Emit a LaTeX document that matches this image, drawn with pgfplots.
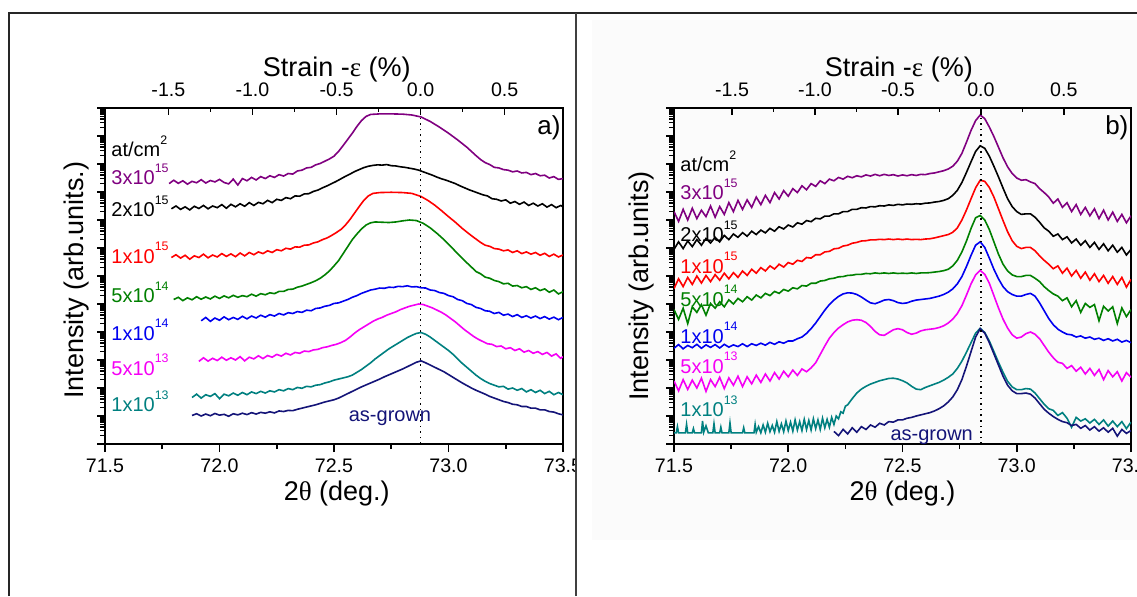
\documentclass[border=0pt]{standalone}
\usepackage{fontspec}
\setmainfont{Liberation Sans}
\newfontfamily\grk{Liberation Serif}
\usepackage{pgfplots}
\pgfplotsset{compat=1.18}

\definecolor{cpur}{RGB}{128,0,128}
\definecolor{cred}{RGB}{255,0,0}
\definecolor{cgrn}{RGB}{0,128,0}
\definecolor{cblu}{RGB}{0,0,240}
\definecolor{cmag}{RGB}{245,0,245}
\definecolor{cteal}{RGB}{0,128,128}
\definecolor{cnavy}{RGB}{20,20,120}

\newcommand\sups[1]{\raisebox{0.62em}{\fontsize{6.2}{7}\selectfont #1}}

% minor ticks of the log-like intensity axis (decades 0..12)
\def\logminors{}
\foreach \k in {0,...,11}{\foreach \m in {0.30103,0.47712,0.60206,0.69897,0.77815,0.84510,0.90309,0.95424}{%
  \pgfmathsetmacro\tmpv{\k+\m}\xdef\logminors{\logminors\tmpv,}}}
\xdef\logminors{\logminors 12}

\pgfplotsset{
  panel/.style={scale only axis, height=168pt, xmin=71.5, xmax=73.5, ymin=0, ymax=12,
    axis line style={line width=1pt}, tick style={line width=0.8pt, black},
    xtick={71.5,72,72.5,73,73.5}, xticklabels={71.5,72.0,72.5,73.0,73.5},
    minor x tick num=1, xtick pos=lower, ytick pos=lower, tick align=outside,
    ytick={0,...,12}, yticklabels={}, minor ytick/.expanded={\logminors},
    major tick length=4pt, minor tick length=2.5pt,
    tick label style={font=\fontsize{9.8}{11}\selectfont},
    label style={font=\fontsize{13.5}{15}\selectfont},
    every axis plot/.append style={no markers, line width=0.8pt}},
  strain/.style={scale only axis, height=168pt, ymin=0, ymax=1,
    axis x line*=top, axis y line=none, axis line style={line width=1pt},
    tick style={line width=0.8pt, black},
    xtick={-1.5,-1,-0.5,0,0.5}, xticklabels={-1.5,-1.0,-0.5,0.0,0.5},
    minor x tick num=1, tick align=inside, major tick length=3.5pt, minor tick length=2pt,
    xticklabel style={font=\fontsize{9.8}{11}\selectfont, yshift=2pt},
    xlabel={Strain -{\grk ε} (\%)},
    xlabel style={font=\fontsize{13.5}{15}\selectfont, anchor=center}}
}
\tikzset{lab/.style={font=\fontsize{10}{12}\selectfont, anchor=base west, inner sep=0pt}}

\begin{document}
\begin{tikzpicture}
\useasboundingbox (0,0) rectangle (568.5pt,298pt);
\clip (0,0) rectangle (568.5pt,298pt);
\fill[white] (0,0) rectangle (568.5pt,298pt);

%% ---------------- panel a) ----------------
\begin{axis}[panel, width=229pt, at={(52.5pt,76pt)}, anchor=south west,
  xlabel={2{\grk θ} (deg.)}, ylabel={Intensity (arb.units.)},
  xlabel style={at={(axis description cs:0.506,-0.146)}, anchor=center},
  ylabel style={at={(axis description cs:-0.063,0.488)}, anchor=center}]
\addplot[cpur] coordinates {(71.78,9.30)(71.80,9.42)(71.82,9.31)(71.84,9.40)(71.86,9.28)(71.88,9.38)(71.90,9.33)(71.92,9.44)(71.94,9.32)(71.96,9.41)(71.98,9.36)(72.00,9.45)(72.02,9.34)(72.04,9.29)(72.06,9.46)(72.08,9.25)(72.10,9.48)(72.12,9.40)(72.14,9.52)(72.16,9.43)(72.18,9.55)(72.20,9.48)(72.22,9.58)(72.24,9.52)(72.26,9.62)(72.28,9.57)(72.30,9.66)(72.32,9.64)(72.34,9.75)(72.36,9.78)(72.38,9.86)(72.40,9.88)(72.42,9.97)(72.44,10.02)(72.46,10.10)(72.48,10.18)(72.50,10.28)(72.52,10.45)(72.54,10.66)(72.56,10.88)(72.58,11.10)(72.60,11.34)(72.62,11.55)(72.64,11.70)(72.66,11.77)(72.70,11.79)(72.75,11.79)(72.80,11.78)(72.84,11.75)(72.88,11.68)(72.92,11.52)(72.96,11.32)(73.00,11.10)(73.04,10.86)(73.08,10.60)(73.10,10.45)(73.12,10.30)(73.14,10.16)(73.16,10.05)(73.18,9.98)(73.20,9.88)(73.22,9.86)(73.24,9.80)(73.26,9.78)(73.28,9.72)(73.30,9.75)(73.32,9.68)(73.34,9.70)(73.36,9.62)(73.38,9.66)(73.40,9.58)(73.42,9.60)(73.44,9.50)(73.46,9.55)(73.48,9.45)(73.50,9.48)};
\addplot[black] coordinates {(71.79,8.40)(71.81,8.50)(71.83,8.38)(71.85,8.47)(71.87,8.36)(71.89,8.49)(71.91,8.41)(71.93,8.52)(71.95,8.40)(71.97,8.50)(71.99,8.44)(72.01,8.55)(72.03,8.42)(72.05,8.56)(72.07,8.47)(72.09,8.58)(72.11,8.49)(72.13,8.62)(72.15,8.52)(72.17,8.63)(72.19,8.58)(72.21,8.70)(72.23,8.62)(72.25,8.74)(72.27,8.70)(72.29,8.80)(72.31,8.76)(72.33,8.86)(72.35,8.85)(72.37,8.93)(72.39,8.94)(72.41,9.02)(72.43,9.07)(72.45,9.15)(72.47,9.22)(72.49,9.30)(72.51,9.38)(72.53,9.47)(72.55,9.56)(72.57,9.64)(72.59,9.73)(72.61,9.80)(72.63,9.87)(72.65,9.92)(72.67,9.95)(72.69,9.97)(72.71,9.96)(72.73,9.98)(72.75,9.94)(72.77,9.93)(72.79,9.90)(72.81,9.88)(72.83,9.85)(72.85,9.82)(72.87,9.78)(72.89,9.72)(72.91,9.66)(72.93,9.60)(72.95,9.53)(72.97,9.47)(72.99,9.42)(73.01,9.36)(73.03,9.30)(73.05,9.22)(73.07,9.15)(73.09,9.08)(73.11,9.02)(73.13,8.96)(73.15,8.90)(73.17,8.86)(73.19,8.76)(73.21,8.74)(73.23,8.68)(73.25,8.72)(73.27,8.60)(73.29,8.66)(73.31,8.56)(73.33,8.64)(73.35,8.52)(73.37,8.60)(73.39,8.50)(73.41,8.58)(73.43,8.46)(73.45,8.55)(73.47,8.44)(73.49,8.52)(73.50,8.47)};
\addplot[cred] coordinates {(71.79,6.66)(71.81,6.76)(71.83,6.64)(71.85,6.74)(71.87,6.60)(71.89,6.72)(71.91,6.66)(71.93,6.78)(71.95,6.65)(71.97,6.75)(71.99,6.68)(72.01,6.80)(72.03,6.70)(72.05,6.79)(72.07,6.69)(72.09,6.82)(72.11,6.72)(72.13,6.84)(72.15,6.76)(72.17,6.86)(72.19,6.80)(72.21,6.90)(72.23,6.84)(72.25,6.94)(72.27,6.90)(72.29,6.99)(72.31,6.96)(72.33,7.04)(72.35,7.03)(72.37,7.10)(72.39,7.11)(72.41,7.18)(72.43,7.22)(72.45,7.30)(72.47,7.36)(72.49,7.45)(72.51,7.55)(72.53,7.66)(72.55,7.82)(72.57,8.02)(72.59,8.25)(72.61,8.48)(72.63,8.70)(72.65,8.86)(72.67,8.95)(72.70,8.98)(72.75,8.99)(72.80,8.98)(72.84,8.95)(72.88,8.84)(72.91,8.70)(72.94,8.53)(72.97,8.33)(73.00,8.12)(73.03,7.92)(73.06,7.70)(73.08,7.57)(73.10,7.44)(73.12,7.32)(73.14,7.20)(73.16,7.10)(73.18,7.06)(73.20,6.98)(73.22,6.96)(73.24,6.90)(73.26,6.93)(73.28,6.84)(73.30,6.90)(73.32,6.80)(73.34,6.86)(73.36,6.78)(73.38,6.84)(73.40,6.74)(73.42,6.81)(73.44,6.70)(73.46,6.78)(73.48,6.68)(73.50,6.75)};
\addplot[cgrn] coordinates {(71.80,5.16)(71.82,5.24)(71.84,5.12)(71.86,5.22)(71.88,5.15)(71.90,5.26)(71.92,5.17)(71.94,5.25)(71.96,5.18)(71.98,5.28)(72.00,5.20)(72.02,5.29)(72.04,5.22)(72.06,5.31)(72.08,5.24)(72.10,5.30)(72.12,5.26)(72.14,5.35)(72.16,5.28)(72.18,5.37)(72.20,5.33)(72.22,5.40)(72.24,5.37)(72.26,5.45)(72.28,5.45)(72.30,5.52)(72.32,5.53)(72.34,5.60)(72.36,5.64)(72.38,5.70)(72.40,5.76)(72.42,5.83)(72.44,5.92)(72.46,6.04)(72.48,6.18)(72.50,6.36)(72.52,6.55)(72.54,6.80)(72.56,7.05)(72.58,7.30)(72.60,7.50)(72.62,7.68)(72.64,7.82)(72.66,7.90)(72.68,7.93)(72.71,7.92)(72.74,7.91)(72.77,7.93)(72.80,7.97)(72.83,8.00)(72.86,7.98)(72.89,7.88)(72.92,7.72)(72.95,7.52)(72.98,7.30)(73.01,7.05)(73.04,6.80)(73.07,6.55)(73.10,6.32)(73.12,6.16)(73.14,6.08)(73.16,5.96)(73.18,5.92)(73.20,5.84)(73.22,5.80)(73.24,5.72)(73.26,5.74)(73.28,5.64)(73.30,5.66)(73.32,5.58)(73.34,5.62)(73.36,5.52)(73.38,5.58)(73.40,5.48)(73.42,5.54)(73.44,5.42)(73.46,5.50)(73.48,5.36)(73.50,5.44)};
\addplot[cblu] coordinates {(71.92,4.40)(71.94,4.52)(71.96,4.38)(71.98,4.50)(72.00,4.42)(72.02,4.54)(72.04,4.44)(72.06,4.52)(72.08,4.45)(72.10,4.56)(72.12,4.47)(72.14,4.57)(72.16,4.50)(72.18,4.60)(72.20,4.53)(72.22,4.62)(72.24,4.57)(72.26,4.66)(72.28,4.61)(72.30,4.69)(72.32,4.66)(72.34,4.73)(72.36,4.70)(72.38,4.78)(72.40,4.76)(72.42,4.84)(72.44,4.86)(72.46,4.92)(72.48,4.95)(72.50,5.02)(72.52,5.04)(72.54,5.10)(72.56,5.16)(72.58,5.24)(72.60,5.30)(72.62,5.38)(72.64,5.44)(72.66,5.50)(72.68,5.53)(72.70,5.57)(72.72,5.56)(72.74,5.60)(72.76,5.59)(72.78,5.63)(72.80,5.62)(72.82,5.65)(72.84,5.61)(72.86,5.62)(72.88,5.58)(72.90,5.57)(72.92,5.50)(72.94,5.48)(72.96,5.41)(72.98,5.38)(73.00,5.30)(73.02,5.26)(73.04,5.16)(73.06,5.12)(73.08,5.02)(73.10,4.98)(73.12,4.88)(73.14,4.84)(73.16,4.76)(73.18,4.74)(73.20,4.66)(73.22,4.70)(73.24,4.60)(73.26,4.64)(73.28,4.55)(73.30,4.62)(73.32,4.52)(73.34,4.58)(73.36,4.50)(73.38,4.57)(73.40,4.48)(73.42,4.55)(73.44,4.46)(73.46,4.53)(73.48,4.44)(73.50,4.52)};
\addplot[cmag] coordinates {(71.91,2.95)(71.93,3.08)(71.95,2.96)(71.97,3.06)(71.99,2.98)(72.01,3.10)(72.03,2.99)(72.05,3.08)(72.07,3.00)(72.09,3.12)(72.11,2.97)(72.13,3.10)(72.15,3.04)(72.17,3.15)(72.19,3.05)(72.21,3.16)(72.23,3.10)(72.25,3.20)(72.27,3.14)(72.29,3.24)(72.31,3.18)(72.33,3.27)(72.35,3.24)(72.37,3.32)(72.39,3.30)(72.41,3.36)(72.43,3.38)(72.45,3.44)(72.47,3.47)(72.49,3.52)(72.51,3.56)(72.53,3.62)(72.55,3.70)(72.57,3.82)(72.59,3.96)(72.61,4.08)(72.63,4.18)(72.65,4.28)(72.67,4.38)(72.69,4.46)(72.71,4.52)(72.73,4.60)(72.75,4.66)(72.77,4.72)(72.79,4.80)(72.81,4.86)(72.83,4.92)(72.85,4.96)(72.87,5.00)(72.89,4.98)(72.91,4.92)(72.93,4.86)(72.95,4.78)(72.97,4.70)(72.99,4.60)(73.01,4.48)(73.03,4.36)(73.05,4.22)(73.07,4.08)(73.09,3.96)(73.11,3.84)(73.13,3.74)(73.15,3.66)(73.17,3.58)(73.19,3.56)(73.21,3.48)(73.23,3.50)(73.25,3.40)(73.27,3.44)(73.29,3.34)(73.31,3.40)(73.33,3.28)(73.35,3.34)(73.37,3.24)(73.39,3.30)(73.41,3.20)(73.43,3.27)(73.45,3.14)(73.47,3.22)(73.49,3.06)(73.50,3.12)};
\addplot[cteal] coordinates {(71.88,1.66)(71.90,1.78)(71.92,1.64)(71.94,1.76)(71.96,1.70)(71.98,1.80)(72.00,1.62)(72.02,1.78)(72.04,1.72)(72.06,1.82)(72.08,1.74)(72.10,1.84)(72.12,1.76)(72.14,1.86)(72.16,1.80)(72.18,1.88)(72.20,1.82)(72.22,1.90)(72.24,1.86)(72.26,1.94)(72.28,1.90)(72.30,1.98)(72.32,1.94)(72.34,2.02)(72.36,1.99)(72.38,2.06)(72.40,2.04)(72.42,2.10)(72.44,2.12)(72.46,2.18)(72.48,2.22)(72.50,2.28)(72.52,2.32)(72.54,2.36)(72.56,2.40)(72.58,2.46)(72.60,2.56)(72.62,2.66)(72.64,2.78)(72.66,2.90)(72.68,3.04)(72.70,3.16)(72.72,3.28)(72.74,3.40)(72.76,3.50)(72.78,3.60)(72.80,3.70)(72.82,3.80)(72.84,3.88)(72.86,3.95)(72.88,3.98)(72.90,3.92)(72.92,3.82)(72.94,3.70)(72.96,3.58)(72.98,3.46)(73.00,3.34)(73.02,3.20)(73.04,3.04)(73.06,2.88)(73.08,2.74)(73.10,2.60)(73.12,2.46)(73.14,2.34)(73.16,2.24)(73.18,2.16)(73.20,2.10)(73.22,2.04)(73.24,2.06)(73.26,1.96)(73.28,2.00)(73.30,1.92)(73.32,1.98)(73.34,1.86)(73.36,1.94)(73.38,1.84)(73.40,1.92)(73.42,1.80)(73.44,1.88)(73.46,1.76)(73.48,1.84)(73.50,1.76)};
\addplot[cnavy] coordinates {(71.88,1.02)(71.90,1.08)(71.92,1.00)(71.94,1.07)(71.96,1.01)(71.98,1.09)(72.00,1.03)(72.02,1.06)(72.04,0.99)(72.06,1.08)(72.08,1.04)(72.10,1.10)(72.12,1.05)(72.14,1.12)(72.16,1.07)(72.18,1.13)(72.20,1.10)(72.22,1.15)(72.24,1.11)(72.26,1.18)(72.28,1.16)(72.30,1.20)(72.32,1.19)(72.34,1.24)(72.36,1.28)(72.38,1.32)(72.40,1.36)(72.42,1.40)(72.44,1.45)(72.46,1.50)(72.48,1.54)(72.50,1.58)(72.52,1.64)(72.54,1.72)(72.56,1.80)(72.58,1.88)(72.60,1.96)(72.62,2.04)(72.64,2.11)(72.66,2.18)(72.68,2.25)(72.70,2.32)(72.72,2.40)(72.74,2.47)(72.76,2.54)(72.78,2.61)(72.80,2.68)(72.82,2.76)(72.84,2.84)(72.86,2.92)(72.88,2.97)(72.90,2.90)(72.92,2.82)(72.94,2.74)(72.96,2.66)(72.98,2.58)(73.00,2.48)(73.02,2.38)(73.04,2.28)(73.06,2.18)(73.08,2.09)(73.10,2.00)(73.12,1.92)(73.14,1.85)(73.16,1.78)(73.18,1.70)(73.20,1.64)(73.22,1.58)(73.24,1.52)(73.26,1.48)(73.28,1.42)(73.30,1.40)(73.32,1.34)(73.34,1.34)(73.36,1.28)(73.38,1.28)(73.40,1.22)(73.42,1.22)(73.44,1.16)(73.46,1.14)(73.48,1.08)(73.50,1.04)};
\addplot[black, dotted, line width=0.9pt] coordinates {(72.878,0)(72.878,11.68)};
\end{axis}
\begin{axis}[strain, width=229pt, at={(52.5pt,76pt)}, anchor=south west,
  xmin=-1.877, xmax=0.847,
  xlabel style={at={(axis description cs:0.506,1.115)}}]
\end{axis}

\node[lab] at (55.5pt,219.65pt) {at/cm\sups{2}};
\node[lab, cpur] at (55.5pt,205.5pt) {3x10\sups{15}};
\node[lab] at (55.5pt,189.65pt) {2x10\sups{15}};
\node[lab, cred] at (55.5pt,166.5pt) {1x10\sups{15}};
\node[lab, cgrn] at (55.5pt,146.65pt) {5x10\sups{14}};
\node[lab, cblu] at (55.5pt,128pt) {1x10\sups{14}};
\node[lab, cmag] at (55.5pt,110.5pt) {5x10\sups{13}};
\node[lab, cteal] at (55.5pt,92.15pt) {1x10\sups{13}};
\node[lab, cnavy, anchor=base] at (195pt,87.15pt) {as-grown};
\node[lab, font=\fontsize{13}{15}\selectfont, anchor=base east] at (280.5pt,230.5pt) {a)};

%% cover and background of the second cell
\fill[white] (288.5pt,0) rectangle (568.5pt,298pt);
\fill[black!1.5] (296pt,28pt) rectangle (568.5pt,288pt);

%% ---------------- panel b) ----------------
\begin{axis}[panel, width=228.5pt, at={(337pt,76pt)}, anchor=south west,
  xlabel={2{\grk θ} (deg.)}, ylabel={Intensity (arb.units)},
  xlabel style={at={(axis description cs:0.5,-0.146)}, anchor=center},
  ylabel style={at={(axis description cs:-0.07,0.47)}, anchor=center}]
\addplot[cpur] coordinates {(71.50,8.30)(71.52,7.95)(71.54,8.38)(71.56,8.00)(71.58,8.42)(71.60,8.05)(71.62,8.35)(71.64,8.12)(71.66,8.50)(71.68,8.10)(71.70,8.48)(71.72,8.20)(71.74,8.62)(71.76,8.30)(71.78,8.70)(71.80,8.38)(71.82,8.72)(71.84,8.45)(71.86,8.82)(71.88,8.55)(71.90,8.88)(71.92,8.62)(71.94,8.98)(71.96,8.75)(71.98,9.05)(72.00,8.85)(72.02,9.12)(72.04,8.98)(72.06,9.22)(72.08,9.08)(72.10,9.30)(72.12,9.20)(72.14,9.40)(72.16,9.30)(72.18,9.46)(72.20,9.40)(72.22,9.52)(72.24,9.46)(72.26,9.56)(72.28,9.51)(72.30,9.58)(72.32,9.54)(72.34,9.61)(72.36,9.57)(72.38,9.63)(72.40,9.58)(72.42,9.63)(72.44,9.59)(72.46,9.62)(72.48,9.57)(72.50,9.61)(72.52,9.58)(72.54,9.62)(72.56,9.59)(72.58,9.63)(72.60,9.62)(72.62,9.66)(72.64,9.68)(72.66,9.72)(72.68,9.76)(72.70,9.82)(72.72,9.92)(72.74,10.10)(72.76,10.38)(72.78,10.78)(72.80,11.20)(72.82,11.55)(72.84,11.75)(72.86,11.62)(72.88,11.32)(72.90,10.98)(72.92,10.60)(72.94,10.22)(72.96,9.90)(72.98,9.66)(73.00,9.50)(73.02,9.42)(73.04,9.44)(73.06,9.36)(73.08,9.30)(73.10,9.12)(73.12,8.98)(73.14,8.82)(73.16,8.60)(73.18,8.75)(73.20,8.45)(73.22,8.62)(73.24,8.30)(73.26,8.55)(73.28,8.20)(73.30,8.45)(73.32,8.15)(73.34,8.40)(73.36,8.05)(73.38,8.35)(73.40,8.00)(73.42,8.28)(73.44,7.95)(73.46,8.20)(73.48,7.90)(73.50,8.15)};
\addplot[black] coordinates {(71.50,6.95)(71.52,7.22)(71.54,6.98)(71.56,7.25)(71.58,7.05)(71.60,7.30)(71.62,7.10)(71.64,7.34)(71.66,7.18)(71.68,7.38)(71.70,7.22)(71.72,7.45)(71.74,7.30)(71.76,7.50)(71.78,7.38)(71.80,7.55)(71.82,7.42)(71.84,7.60)(71.86,7.48)(71.88,7.64)(71.90,7.54)(71.92,7.70)(71.94,7.60)(71.96,7.76)(71.98,7.68)(72.00,7.82)(72.02,7.75)(72.04,7.90)(72.06,7.85)(72.08,7.98)(72.10,7.94)(72.12,8.06)(72.14,8.04)(72.16,8.14)(72.18,8.14)(72.20,8.22)(72.22,8.22)(72.24,8.30)(72.26,8.30)(72.28,8.38)(72.30,8.38)(72.32,8.44)(72.34,8.43)(72.36,8.48)(72.38,8.47)(72.40,8.51)(72.42,8.50)(72.44,8.54)(72.46,8.52)(72.48,8.56)(72.50,8.54)(72.52,8.57)(72.54,8.56)(72.56,8.58)(72.58,8.57)(72.60,8.60)(72.62,8.61)(72.64,8.64)(72.66,8.66)(72.68,8.70)(72.70,8.76)(72.72,8.88)(72.74,9.06)(72.76,9.34)(72.78,9.70)(72.80,10.08)(72.82,10.45)(72.84,10.65)(72.86,10.56)(72.88,10.28)(72.90,9.92)(72.92,9.54)(72.94,9.14)(72.96,8.76)(72.98,8.48)(73.00,8.30)(73.02,8.20)(73.04,8.22)(73.06,8.22)(73.08,8.10)(73.10,7.92)(73.12,7.72)(73.14,7.60)(73.16,7.42)(73.18,7.50)(73.20,7.30)(73.22,7.40)(73.24,7.18)(73.26,7.32)(73.28,7.10)(73.30,7.26)(73.32,7.02)(73.34,7.20)(73.36,6.95)(73.38,7.15)(73.40,6.90)(73.42,7.10)(73.44,6.85)(73.46,7.02)(73.48,6.75)(73.50,6.95)};
\addplot[cred] coordinates {(71.50,5.55)(71.52,5.90)(71.54,5.62)(71.56,5.95)(71.58,5.70)(71.60,6.00)(71.62,5.75)(71.64,6.02)(71.66,5.80)(71.68,6.05)(71.70,5.85)(71.72,6.10)(71.74,5.90)(71.76,6.12)(71.78,5.95)(71.80,6.18)(71.82,6.02)(71.84,6.24)(71.86,6.10)(71.88,6.30)(71.90,6.18)(71.92,6.36)(71.94,6.25)(71.96,6.42)(71.98,6.32)(72.00,6.48)(72.02,6.42)(72.04,6.56)(72.06,6.52)(72.08,6.66)(72.10,6.64)(72.12,6.76)(72.14,6.76)(72.16,6.86)(72.18,6.88)(72.20,6.97)(72.22,6.99)(72.24,7.07)(72.26,7.10)(72.28,7.17)(72.30,7.20)(72.32,7.25)(72.34,7.26)(72.36,7.29)(72.38,7.29)(72.40,7.31)(72.42,7.30)(72.44,7.32)(72.46,7.30)(72.48,7.32)(72.50,7.30)(72.52,7.32)(72.54,7.30)(72.56,7.31)(72.58,7.30)(72.60,7.32)(72.62,7.33)(72.64,7.36)(72.66,7.40)(72.68,7.44)(72.70,7.48)(72.72,7.56)(72.74,7.72)(72.76,8.00)(72.78,8.36)(72.80,8.76)(72.82,9.15)(72.84,9.42)(72.86,9.38)(72.88,9.16)(72.90,8.82)(72.92,8.40)(72.94,7.98)(72.96,7.58)(72.98,7.26)(73.00,7.06)(73.02,6.98)(73.04,7.02)(73.06,7.02)(73.08,6.90)(73.10,6.72)(73.12,6.56)(73.14,6.42)(73.16,6.26)(73.18,6.36)(73.20,6.10)(73.22,6.28)(73.24,6.00)(73.26,6.20)(73.28,5.92)(73.30,6.14)(73.32,5.85)(73.34,6.08)(73.36,5.80)(73.38,6.02)(73.40,5.74)(73.42,5.98)(73.44,5.70)(73.46,5.95)(73.48,5.60)(73.50,5.88)};
\addplot[cgrn] coordinates {(71.50,4.80)(71.52,4.45)(71.54,4.85)(71.56,4.30)(71.58,4.90)(71.60,4.70)(71.62,4.98)(71.64,4.60)(71.66,5.02)(71.68,4.85)(71.70,5.08)(71.72,4.90)(71.74,5.15)(71.76,5.00)(71.78,5.20)(71.80,5.08)(71.82,5.26)(71.84,5.14)(71.86,5.32)(71.88,5.22)(71.90,5.38)(71.92,5.30)(71.94,5.45)(71.96,5.38)(71.98,5.52)(72.00,5.46)(72.02,5.58)(72.04,5.54)(72.06,5.66)(72.08,5.64)(72.10,5.74)(72.12,5.74)(72.14,5.82)(72.16,5.84)(72.18,5.90)(72.20,5.92)(72.22,5.97)(72.24,5.98)(72.26,6.02)(72.28,6.03)(72.30,6.06)(72.32,6.06)(72.34,6.09)(72.36,6.08)(72.38,6.11)(72.40,6.09)(72.42,6.11)(72.44,6.09)(72.46,6.11)(72.48,6.09)(72.50,6.10)(72.52,6.09)(72.54,6.11)(72.56,6.09)(72.58,6.11)(72.60,6.11)(72.62,6.12)(72.64,6.14)(72.66,6.16)(72.68,6.19)(72.70,6.24)(72.72,6.36)(72.74,6.56)(72.76,6.86)(72.78,7.25)(72.80,7.70)(72.82,8.08)(72.84,8.16)(72.86,8.00)(72.88,7.66)(72.90,7.22)(72.92,6.78)(72.94,6.42)(72.96,6.18)(72.98,6.04)(73.00,5.98)(73.02,5.98)(73.04,6.02)(73.06,6.02)(73.08,5.92)(73.10,5.80)(73.12,5.62)(73.14,5.48)(73.16,5.36)(73.18,5.28)(73.20,5.12)(73.22,5.22)(73.24,4.90)(73.26,5.12)(73.28,4.70)(73.30,5.02)(73.32,4.88)(73.34,4.98)(73.36,4.40)(73.38,4.92)(73.40,4.75)(73.42,4.90)(73.44,4.30)(73.46,4.86)(73.48,4.55)(73.50,4.80)};
\addplot[cblu] coordinates {(71.50,3.42)(71.52,3.55)(71.54,3.40)(71.56,3.52)(71.58,3.44)(71.60,3.56)(71.62,3.42)(71.64,3.54)(71.66,3.45)(71.68,3.55)(71.70,3.43)(71.72,3.56)(71.74,3.46)(71.76,3.54)(71.78,3.48)(71.80,3.58)(71.82,3.48)(71.84,3.58)(71.86,3.52)(71.88,3.60)(71.90,3.53)(71.92,3.63)(71.94,3.56)(71.96,3.65)(71.98,3.60)(72.00,3.68)(72.02,3.68)(72.04,3.76)(72.06,3.82)(72.08,3.95)(72.10,4.12)(72.12,4.32)(72.14,4.55)(72.16,4.78)(72.18,4.98)(72.20,5.14)(72.22,5.27)(72.24,5.36)(72.26,5.40)(72.28,5.39)(72.30,5.34)(72.32,5.25)(72.34,5.14)(72.36,5.04)(72.38,5.01)(72.40,5.07)(72.42,5.14)(72.44,5.16)(72.46,5.12)(72.48,5.05)(72.50,5.02)(72.52,5.04)(72.54,5.10)(72.56,5.14)(72.58,5.16)(72.60,5.18)(72.62,5.20)(72.64,5.24)(72.66,5.28)(72.68,5.34)(72.70,5.42)(72.72,5.54)(72.74,5.72)(72.76,5.98)(72.78,6.34)(72.80,6.74)(72.82,7.10)(72.84,7.22)(72.86,7.02)(72.88,6.64)(72.90,6.24)(72.92,5.90)(72.94,5.62)(72.96,5.44)(72.98,5.34)(73.00,5.28)(73.02,5.28)(73.04,5.34)(73.06,5.38)(73.08,5.28)(73.10,5.04)(73.12,4.76)(73.14,4.48)(73.16,4.26)(73.18,4.10)(73.20,4.00)(73.22,3.92)(73.24,3.90)(73.26,3.82)(73.28,3.86)(73.30,3.78)(73.32,3.82)(73.34,3.74)(73.36,3.78)(73.38,3.70)(73.40,3.76)(73.42,3.68)(73.44,3.74)(73.46,3.64)(73.48,3.70)(73.50,3.62)};
\addplot[cmag] coordinates {(71.50,2.25)(71.52,1.90)(71.54,2.30)(71.56,1.95)(71.58,2.28)(71.60,2.00)(71.62,2.35)(71.64,1.88)(71.66,2.30)(71.68,2.05)(71.70,2.38)(71.72,1.98)(71.74,2.36)(71.76,2.10)(71.78,2.42)(71.80,2.05)(71.82,2.40)(71.84,2.15)(71.86,2.46)(71.88,2.20)(71.90,2.50)(71.92,2.25)(71.94,2.55)(71.96,2.32)(71.98,2.60)(72.00,2.40)(72.02,2.64)(72.04,2.45)(72.06,2.68)(72.08,2.58)(72.10,2.72)(72.12,2.90)(72.14,3.20)(72.16,3.50)(72.18,3.78)(72.20,3.98)(72.22,4.14)(72.24,4.26)(72.26,4.36)(72.28,4.42)(72.30,4.44)(72.32,4.42)(72.34,4.34)(72.36,4.20)(72.38,4.02)(72.40,3.90)(72.42,3.88)(72.44,3.98)(72.46,4.08)(72.48,4.12)(72.50,4.08)(72.52,3.98)(72.54,3.92)(72.56,3.96)(72.58,4.04)(72.60,4.08)(72.62,4.10)(72.64,4.12)(72.66,4.16)(72.68,4.22)(72.70,4.32)(72.72,4.46)(72.74,4.66)(72.76,4.94)(72.78,5.32)(72.80,5.72)(72.82,6.04)(72.84,6.20)(72.86,6.06)(72.88,5.74)(72.90,5.30)(72.92,4.86)(72.94,4.46)(72.96,4.14)(72.98,3.90)(73.00,3.78)(73.02,3.82)(73.04,3.94)(73.06,4.00)(73.08,3.92)(73.10,3.76)(73.12,3.52)(73.14,3.28)(73.16,3.08)(73.18,2.92)(73.20,2.88)(73.22,2.70)(73.24,2.80)(73.26,2.60)(73.28,2.74)(73.30,2.50)(73.32,2.70)(73.34,2.45)(73.36,2.66)(73.38,2.30)(73.40,2.62)(73.42,2.40)(73.44,2.58)(73.46,2.25)(73.48,2.55)(73.50,2.38)};
\addplot[cteal] coordinates {(71.50,0.40)(71.51,0.40)(71.515,0.62)(71.52,0.40)(71.55,0.40)(71.555,0.70)(71.56,0.40)(71.58,0.40)(71.585,0.55)(71.59,0.40)(71.62,0.40)(71.625,0.82)(71.63,0.42)(71.64,0.65)(71.65,0.40)(71.67,0.40)(71.675,0.72)(71.68,0.40)(71.70,0.40)(71.705,0.60)(71.71,0.40)(71.74,0.40)(71.745,0.75)(71.75,0.40)(71.80,0.40)(71.805,0.58)(71.81,0.40)(71.85,0.40)(71.855,0.70)(71.86,0.42)(71.87,0.62)(71.88,0.40)(71.89,0.68)(71.90,0.42)(71.91,0.74)(71.92,0.44)(71.93,0.66)(71.94,0.42)(71.95,0.80)(71.96,0.45)(71.97,0.72)(71.98,0.44)(71.99,0.82)(72.00,0.48)(72.01,0.78)(72.02,0.46)(72.03,0.86)(72.04,0.50)(72.05,0.80)(72.06,0.48)(72.07,0.88)(72.08,0.52)(72.09,0.84)(72.10,0.50)(72.11,0.90)(72.12,0.55)(72.13,0.86)(72.14,0.52)(72.15,0.92)(72.16,0.58)(72.17,0.88)(72.18,0.60)(72.19,0.95)(72.20,0.70)(72.21,1.00)(72.22,0.90)(72.23,1.15)(72.24,1.10)(72.25,1.35)(72.26,1.40)(72.28,1.62)(72.30,1.82)(72.32,1.96)(72.34,2.06)(72.36,2.14)(72.38,2.20)(72.40,2.26)(72.42,2.30)(72.44,2.34)(72.46,2.35)(72.48,2.32)(72.50,2.26)(72.52,2.18)(72.54,2.06)(72.56,1.96)(72.58,1.94)(72.60,2.02)(72.62,2.08)(72.64,2.14)(72.66,2.20)(72.68,2.28)(72.70,2.38)(72.72,2.50)(72.74,2.70)(72.76,2.96)(72.78,3.28)(72.80,3.62)(72.82,3.96)(72.84,4.13)(72.86,3.98)(72.88,3.68)(72.90,3.30)(72.92,2.92)(72.94,2.56)(72.96,2.24)(72.98,2.04)(73.00,1.94)(73.02,1.94)(73.04,1.98)(73.06,1.96)(73.08,1.82)(73.10,1.62)(73.12,1.42)(73.14,1.26)(73.16,1.20)(73.18,1.02)(73.20,1.12)(73.22,0.92)(73.24,0.60)(73.26,0.95)(73.28,0.82)(73.30,0.90)(73.32,0.75)(73.34,0.88)(73.36,0.70)(73.38,0.86)(73.40,0.64)(73.42,0.82)(73.44,0.62)(73.46,0.80)(73.48,0.55)(73.50,0.78)};
\addplot[cnavy] coordinates {(72.20,0.45)(72.22,0.30)(72.24,0.52)(72.26,0.36)(72.28,0.58)(72.30,0.42)(72.32,0.62)(72.34,0.52)(72.36,0.68)(72.38,0.60)(72.40,0.74)(72.42,0.68)(72.44,0.80)(72.46,0.78)(72.48,0.86)(72.50,0.86)(72.52,0.92)(72.54,0.95)(72.56,1.00)(72.58,1.04)(72.60,1.08)(72.62,1.12)(72.64,1.18)(72.66,1.26)(72.68,1.36)(72.70,1.50)(72.72,1.68)(72.74,1.94)(72.76,2.30)(72.78,2.78)(72.80,3.30)(72.82,3.82)(72.84,4.12)(72.86,3.96)(72.88,3.62)(72.90,3.22)(72.92,2.82)(72.94,2.42)(72.96,2.10)(72.98,1.90)(73.00,1.80)(73.02,1.80)(73.04,1.82)(73.06,1.78)(73.08,1.64)(73.10,1.44)(73.12,1.24)(73.14,1.10)(73.16,0.98)(73.18,0.88)(73.20,0.80)(73.22,0.76)(73.24,0.66)(73.26,0.70)(73.28,0.56)(73.30,0.66)(73.32,0.50)(73.34,0.62)(73.36,0.46)(73.38,0.58)(73.40,0.42)(73.42,0.56)(73.44,0.28)(73.46,0.52)(73.48,0.38)(73.50,0.48)};
\addplot[black, dotted, line width=0.9pt] coordinates {(72.843,0)(72.843,11.68)};
\end{axis}
\begin{axis}[strain, width=228.5pt, at={(337pt,76pt)}, anchor=south west,
  xmin=-1.850, xmax=0.905,
  xlabel style={at={(axis description cs:0.492,1.115)}}]
\end{axis}

\node[lab] at (340pt,212.15pt) {at/cm\sups{2}};
\node[lab, cpur] at (340pt,198pt) {3x10\sups{15}};
\node[lab] at (340pt,177.15pt) {2x10\sups{15}};
\node[lab, cred] at (340pt,161.5pt) {1x10\sups{15}};
\node[lab, cgrn] at (340pt,145pt) {5x10\sups{14}};
\node[lab, cblu] at (340pt,126.5pt) {1x10\sups{14}};
\node[lab, cmag] at (340pt,111.5pt) {5x10\sups{13}};
\node[lab, cteal] at (340pt,89.65pt) {1x10\sups{13}};
\node[lab, cnavy, anchor=base] at (465.85pt,78pt) {as-grown};
\node[lab, font=\fontsize{13}{15}\selectfont, anchor=base east] at (564.4pt,230.5pt) {b)};

%% table-cell frame
\draw[black!85, line width=1pt] (4.5pt,0) -- (4.5pt,291.5pt) -- (568.5pt,291.5pt);
\draw[black!75, line width=1pt] (288pt,0) -- (288pt,291.5pt);
\end{tikzpicture}
\end{document}
